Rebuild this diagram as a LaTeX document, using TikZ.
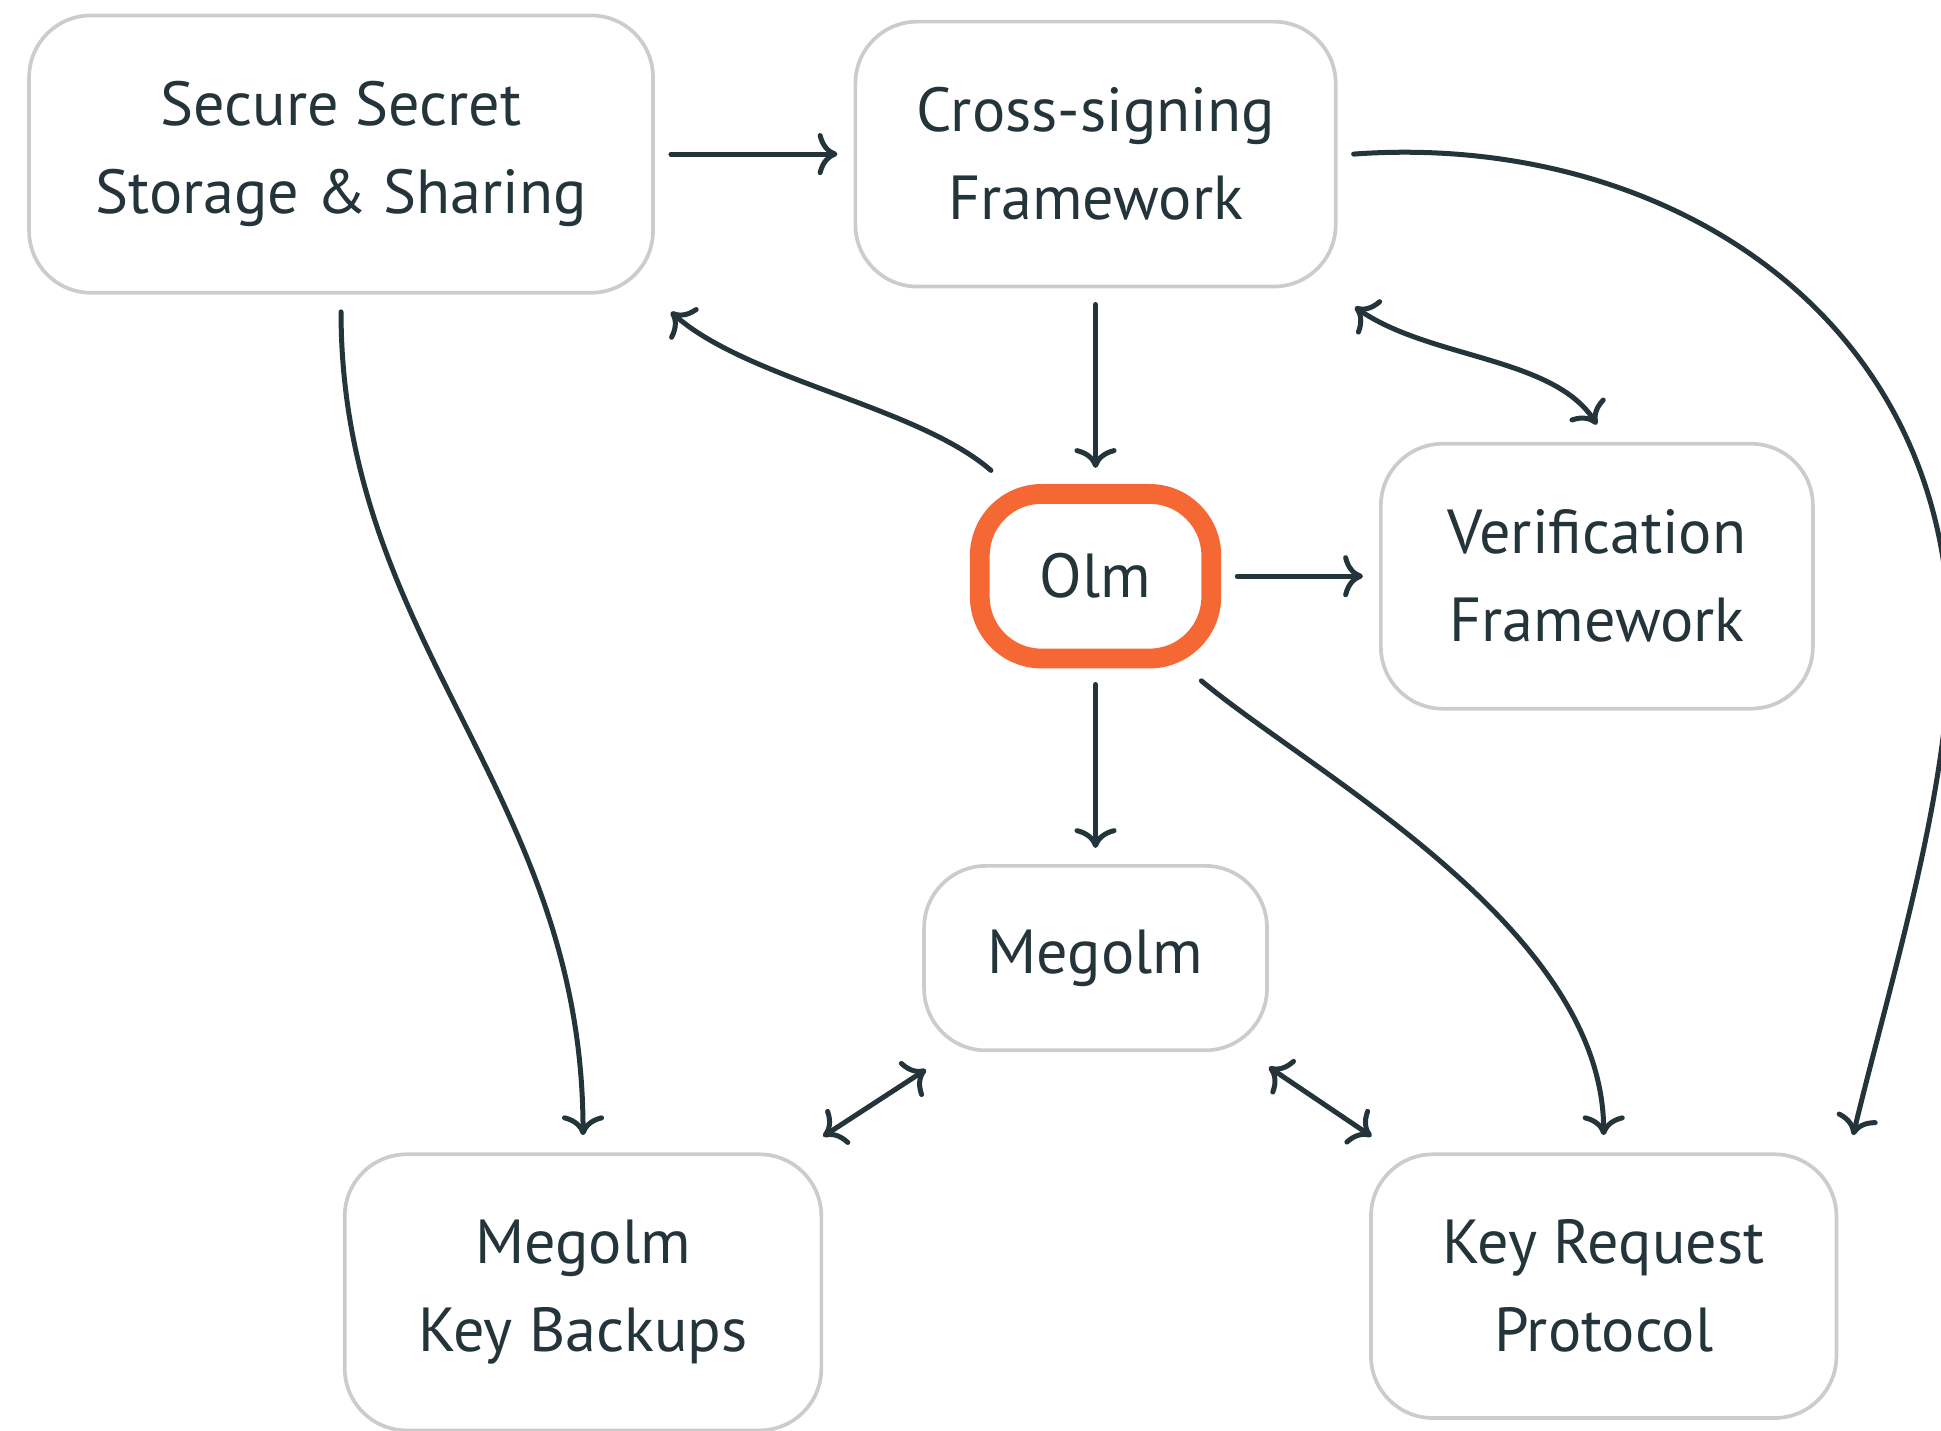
\documentclass[tikz,border=0pt]{standalone}
\usepackage{fontspec}
\setmainfont{PT Sans}
\usetikzlibrary{arrows.meta}
\definecolor{ink}{RGB}{35,52,58}
\definecolor{boxline}{RGB}{204,204,204}
\definecolor{olmorange}{RGB}{245,104,51}
\tikzset{>={Computer Modern Rightarrow[length=1.6mm,width=3.4mm]},
 module/.style={draw=boxline,line width=0.85pt,rounded corners=0.5cm,align=center,
  text=ink,font=\fontsize{14.3}{20.2}\selectfont},
 link/.style={draw=ink,line width=1.15pt,line cap=round},
 gap/.style={shorten <=1.3mm,shorten >=1.3mm}}

\begin{document}
\begin{tikzpicture}
\useasboundingbox (0,0) rectangle (15.68,-11.56);
\node[module,minimum width=5.04cm,minimum height=2.24cm] (sss) at (2.755,-1.245) {Secure Secret\\Storage \& Sharing};
\node[module,minimum width=3.88cm,minimum height=2.14cm] (xsign) at (8.85,-1.245) {Cross-signing\\Framework};
\node[module,draw=olmorange,line width=0.16cm,minimum width=1.87cm,minimum height=1.33cm] (olm) at (8.85,-4.655) {Olm};
\node[module,minimum width=3.49cm,minimum height=2.14cm] (verif) at (12.90,-4.655) {Verification\\Framework};
\node[module,minimum width=2.77cm,minimum height=1.49cm] (megolm) at (8.85,-7.74) {Megolm};
\node[module,minimum width=3.85cm,minimum height=2.23cm] (backup) at (4.71,-10.44) {Megolm\\Key Backups};
\node[module,minimum width=3.76cm,minimum height=2.13cm] (keyreq) at (12.955,-10.39) {Key Request\\Protocol};
\coordinate (far) at (15.75,-5.20);
\draw[link,gap,->] (sss.east) -- (xsign.west);
\draw[link,gap,->] (xsign.south) -- (olm.north);
\draw[link,gap,->] (olm.east) -- (verif.west);
\draw[link,gap,->] (olm.south) -- (megolm.north);
\draw[link,<->] ([shift={(0.03,-0.14)}]megolm.south west) -- ([shift={(0,0.13)}]backup.north east);
\draw[link,<->] ([shift={(0,-0.12)}]megolm.south east) -- ([shift={(0.02,0.13)}]keyreq.north west);
\draw[link,->] ([shift={(0.17,0.11)}]olm.north west) .. controls +(-0.60,0.52) and +(0.62,-0.55) .. ([shift={(0.13,-0.14)}]sss.south east);
\draw[link,<->] ([shift={(0.14,-0.15)}]xsign.south east) .. controls +(0.60,-0.42) and +(-0.35,0.55) .. ([shift={(0,0.14)}]verif.north);
\draw[link,->] ([xshift=0.13cm]xsign.east) .. controls +(2.46,0.18) and +(0,2.70) .. (far)
 .. controls +(0,-1.20) and +(0.28,1.17) .. ([shift={(0.12,0.14)}]keyreq.north east);
\draw[link,->] ([shift={(-0.16,-0.10)}]olm.south east) .. controls +(0.90,-0.75) and +(0,1.67) .. ([shift={(0,0.14)}]keyreq.north);
\draw[link,->] ([yshift=-0.14cm]sss.south) .. controls +(0,-2.68) and +(0,2.77) .. ([yshift=0.14cm]backup.north);
\end{tikzpicture}
\end{document}
